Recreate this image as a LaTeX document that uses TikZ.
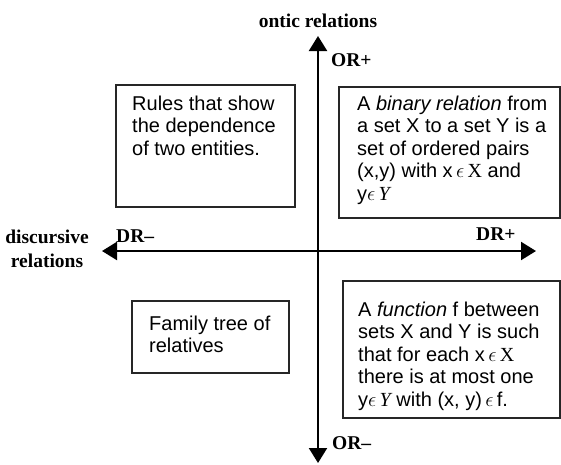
\documentclass[tikz,border=0pt]{standalone}
\usepackage{fontspec}
\setmainfont{Liberation Serif}
\setsansfont{Liberation Sans}
\usepackage{tikz}
\usetikzlibrary{arrows.meta,positioning}

\newcommand{\elem}{\,$\epsilon$\,}

\begin{document}
\begin{tikzpicture}
  [
    x=1pt,y=-1pt,
    axis/.style={line width=2.2pt,{Triangle[length=15pt,width=18pt]}-{Triangle[length=15pt,width=18pt]}},
    quadbox/.style={rectangle,draw=black!85,line width=1.3pt,inner sep=0pt,outer sep=0pt,anchor=north west},
    quadtext/.style={font=\sffamily\fontsize{20}{22.5}\selectfont,align=left,inner sep=0pt,anchor=north west},
    axlabel/.style={font=\bfseries\fontsize{19.5}{24}\selectfont,inner sep=0pt}
  ]
  \useasboundingbox (0,0) rectangle (561,464);

  % axes
  \coordinate (top) at (318,36);
  \coordinate (bottom) at (318,463);
  \coordinate (leftend) at (102,251);
  \coordinate (rightend) at (536,251);
  \draw [axis] (bottom) -- (top);
  \draw [axis] (leftend) -- (rightend);

  % axis labels
  \node[axlabel, anchor=base] (ontic) at (318,27) {ontic relations};
  \node[axlabel, align=center, anchor=north] (discursive) at (47,230) {discursive\\relations};
  \node[axlabel, anchor=base west] (or plus) at (331,66) {OR+};
  \node[axlabel, anchor=base west] (or minus) at (332,449) {OR--};
  \node[axlabel, anchor=base west] (dr minus) at (116,242) {DR--};
  \node[axlabel, anchor=base west] (dr plus) at (476,240) {DR+};

  % quadrant boxes
  \node[quadbox, minimum width=179pt, minimum height=122pt] (rules) at (116,85) {};
  \node[quadbox, minimum width=221pt, minimum height=131pt] (binary) at (339,87) {};
  \node[quadbox, minimum width=157pt, minimum height=72pt] (family) at (132,301) {};
  \node[quadbox, minimum width=217pt, minimum height=137pt] (function) at (343,281) {};

  \node[quadtext, below right=10.5pt and 16pt of rules.north west] (rules text)
    {Rules that show\\the dependence\\of two entities.};
  \node[quadtext, below right=8.5pt and 18pt of binary.north west] (binary text)
    {A \textit{binary relation} from\\a set X to a set Y is a\\set of ordered pairs\\(x,y) with x\elem{\rmfamily X} and\\y$\epsilon$\,{\rmfamily\itshape Y}};
  \node[quadtext, below right=14.5pt and 17pt of family.north west] (family text)
    {Family tree of\\relatives};
  \node[quadtext, below right=20.5pt and 15pt of function.north west] (function text)
    {A \textit{function} f between\\sets X and Y is such\\that for each x\elem{\rmfamily X}\\there is at most one\\y$\epsilon$\,{\rmfamily\itshape Y} with (x, y)\elem f.};
\end{tikzpicture}
\end{document}
